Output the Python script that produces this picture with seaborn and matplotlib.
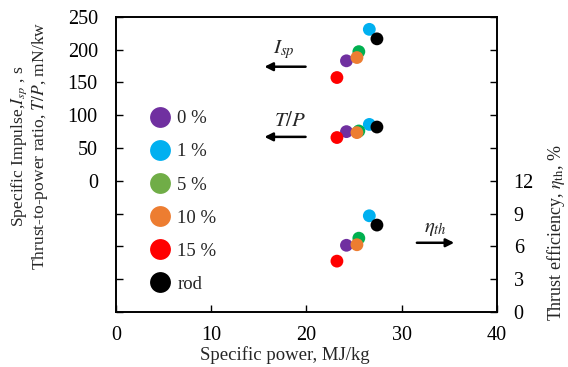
import matplotlib
matplotlib.use("Agg")
import matplotlib.pyplot as plt
from matplotlib.lines import Line2D
import pandas as pd
import seaborn as sns

# values
labels = ["0 %", "1 %", "5 %", "10 %", "15 %", "rod"]
power = [24.2, 26.6, 25.5, 25.3, 23.2, 27.4]
isp = [183, 231, 197, 188, 157.5, 216.5]
thrust_power = [75, 86, 76, 73.5, 66, 82]
efficiency = [6.1, 8.8, 6.75, 6.15, 4.65, 7.95]

colors = ["#7030A0", "#00B0F0", "#00B050", "#ED7D31", "#FF0000", "#000000"]
legend_colors = ["#7030A0", "#00B0F0", "#70AD47", "#ED7D31", "#FF0000", "#000000"]

left_ticks = [-200, -150, -100, -50, 0, 50, 100, 150, 200, 250]
right_ticks = [0, 3, 6, 9, 12, 15, 18, 21, 24, 27]

sns.set_theme(style="white")
plt.rcParams["font.family"] = ["Liberation Serif", "DejaVu Serif"]
plt.rcParams["mathtext.fontset"] = "stix"
plt.rcParams["font.size"] = 13

df = pd.DataFrame({"label": labels, "power": power, "isp": isp,
                   "tp": thrust_power, "eta": efficiency})
palette = dict(zip(labels, colors))

fig = plt.figure(figsize=(5.68, 3.67), dpi=100)
ax = fig.add_axes([0.204, 0.150, 0.671, 0.804])
ax2 = ax.twinx()

for col, axis in [("isp", ax), ("tp", ax), ("eta", ax2)]:
    sns.scatterplot(data=df, x="power", y=col, hue="label", palette=palette,
                    s=85, edgecolor="none", legend=False, ax=axis, zorder=3)

ax.set_xlim(0, 40)
ax.set_xticks([0, 10, 20, 30, 40])
ax.set_ylim(-200, 250)
ax.set_yticks(left_ticks)
ax.set_yticklabels([str(t) if t >= 0 else "" for t in left_ticks])
ax.set_xlabel("Specific power, MJ/kg", fontsize=13.5)
ax.xaxis.set_label_coords(0.443, -0.115)
ax.set_ylabel("Specific Impulse,$I_{sp}$ , s\nThrust-to-power ratio, $T/P$, mN/kw",
              fontsize=12.6, linespacing=1.05)
ax.yaxis.set_label_coords(-0.173, 0.563)

ax2.set_ylim(0, 27)
ax2.set_yticks(right_ticks)
ax2.set_yticklabels([str(t) if t <= 12 else "" for t in right_ticks])
ax2.set_ylabel(r"Thrust efficiency, $\eta_{\mathrm{th}}$, %", fontsize=13)
ax2.yaxis.set_label_coords(1.125, 0.27)

for a in (ax, ax2):
    for spine in a.spines.values():
        spine.set_color("black")
        spine.set_linewidth(1.2)
    a.tick_params(direction="in", length=5, width=1, colors="black",
                  labelsize=14.5)
ax.tick_params(axis="y", left=True, right=False, pad=13)
ax.tick_params(axis="x", bottom=True, top=False, pad=10)
ax2.tick_params(axis="y", right=True, left=False, pad=12)

arrow = dict(arrowstyle="-|>", color="black", lw=1.8, mutation_scale=12)
ax.annotate("", xy=(15.3, 174), xytext=(20.2, 174), arrowprops=arrow)
ax.text(17.6, 200, "$I_{sp}$", ha="center", va="center", fontsize=15)
ax.annotate("", xy=(15.3, 67), xytext=(20.2, 67), arrowprops=arrow)
ax.text(18.3, 90, "$T/P$", ha="center", va="center", fontsize=15)
ax.annotate("", xy=(35.8, -94.5), xytext=(31.3, -94.5), arrowprops=arrow)
ax.text(33.5, -72, r"$\eta_{th}$", ha="center", va="center", fontsize=15)

handles = [Line2D([], [], marker="o", linestyle="none", markersize=15,
                  markerfacecolor=c, markeredgecolor="none") for c in legend_colors]
ax.legend(handles, labels, loc="upper left", bbox_to_anchor=(0.236, 0.72),
          bbox_transform=fig.transFigure, frameon=False, fontsize=13.5,
          handletextpad=-0.1, labelspacing=0.85, borderaxespad=0)

fig.savefig("out.png", dpi=100)
